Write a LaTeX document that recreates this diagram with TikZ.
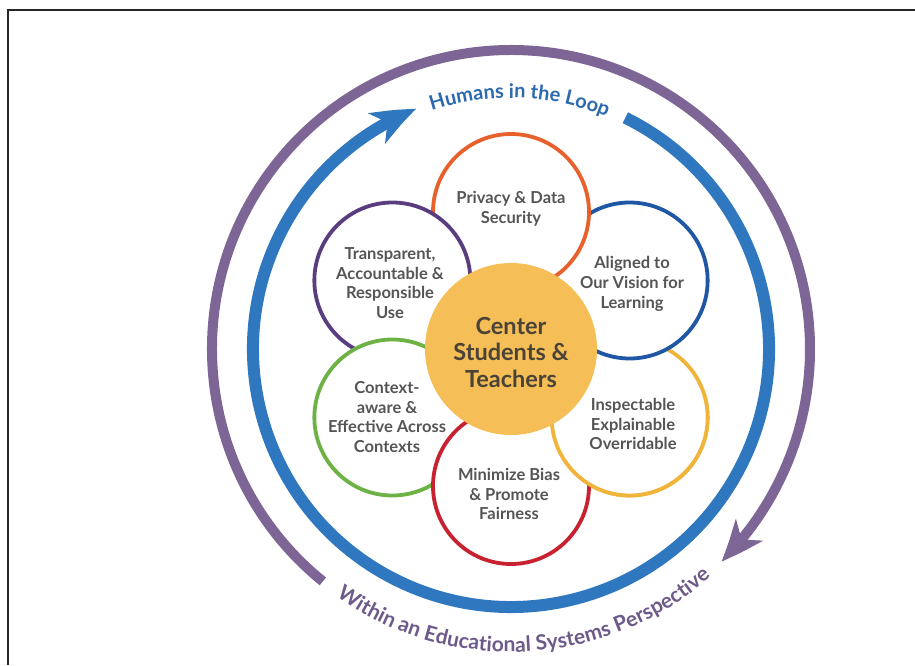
\documentclass[tikz,border=0pt]{standalone}
\usepackage{fontspec}
\setmainfont{Lato}
\usetikzlibrary{arrows.meta,bending,decorations.text}
\definecolor{ringblue}{HTML}{2F78BF}
\definecolor{ringpurple}{HTML}{7D6595}
\definecolor{porange}{HTML}{E8612C}
\definecolor{pblue}{HTML}{1F57A5}
\definecolor{pyellow}{HTML}{F0B43A}
\definecolor{pred}{HTML}{C82130}
\definecolor{pgreen}{HTML}{6CB244}
\definecolor{ppurple}{HTML}{5A3D7F}
\definecolor{corefill}{HTML}{F5BE56}
\definecolor{txtgray}{HTML}{555555}
\definecolor{coretxt}{HTML}{4A4338}
\definecolor{toptxt}{HTML}{2C69AE}
\definecolor{bottxt}{HTML}{6E5A8A}
\begin{document}
\begin{tikzpicture}[x=1pt,y=1pt,
  petal/.style={circle, minimum size=156pt, inner sep=0pt, fill=white, line width=3.8pt},
  petaltext/.style={align=center, text=txtgray, font=\bfseries\fontsize{16.5}{19.7}\selectfont, inner sep=0pt},
  coretext/.style={align=center, text=coretxt, font=\bfseries\fontsize{23.5}{26.5}\selectfont, inner sep=0pt},
  frameline/.style={line width=1.5pt, black!85}]
\useasboundingbox (-511,-316) rectangle (404,349);
% frame
\coordinate (fbl) at (-503,-316);
\coordinate (ftl) at (-503,339);
\coordinate (ftr) at (404,339);
\draw[frameline] (fbl) -- (ftl) -- (ftr);
% rings
\draw[ringpurple, line width=10pt, -{Stealth[length=42pt,width=34pt,inset=12pt,bend]}]
  (231:299) arc[start angle=231, end angle=-45.3, radius=299];
\draw[ringblue, line width=12pt, -{Stealth[length=44pt,width=34pt,inset=12pt,bend]}]
  (63.7:258) arc[start angle=63.7, end angle=-248.5, radius=258];
% ring texts
\path[decorate, decoration={text along path, text format delimiters={|}{|},
  text={|\fontsize{20}{24}\selectfont\bfseries|Humans in the Loop},
  text align=center, text color=toptxt}]
  (130:251) arc[start angle=130, end angle=46, radius=251];
\path[decorate, decoration={text along path, text format delimiters={|}{|},
  text={|\fontsize{21}{25}\selectfont\bfseries|Within an Educational Systems Perspective},
  text align=center, text color=bottxt}]
  (230:303) arc[start angle=230, end angle=316, radius=303];
% petals (each covers its clockwise neighbour)
\node[petal, draw=pyellow] (insp) at (-30:137) {};
\node[petal, draw=pblue] (align) at (30:137) {};
\node[petal, draw=porange] (priv) at (90:137) {};
\node[petal, draw=ppurple] (transp) at (150:137) {};
\node[petal, draw=pgreen] (context) at (210:137) {};
\node[petal, draw=pred] (bias) at (270:137) {};
\begin{scope}
  \clip (-20,-45) rectangle (250,-260);
  \draw[pyellow, fill=white, line width=3.8pt] (insp.center) circle[radius=78];
\end{scope}
% centre
\node[circle, minimum size=172pt, inner sep=0pt, fill=corefill] (core) at (0,0) {};
% texts
\node[petaltext] (tpriv) at (0,140) {Privacy \& Data\\Security};
\node[petaltext] (talign) at (121,65) {Aligned to\\Our Vision for\\Learning};
\node[petaltext] (ttransp) at (-121,66) {Transparent,\\Accountable \&\\Responsible\\Use};
\node[petaltext] (tinsp) at (122,-75) {Inspectable\\Explainable\\Overridable};
\node[petaltext] (tcontext) at (-124,-68) {Context-\\aware \&\\Effective Across\\Contexts};
\node[petaltext] (tbias) at (-2,-145) {Minimize Bias\\\& Promote\\Fairness};
\node[coretext] (tcore) at (0,-3) {Center\\Students \&\\Teachers};
\end{tikzpicture}
\end{document}
